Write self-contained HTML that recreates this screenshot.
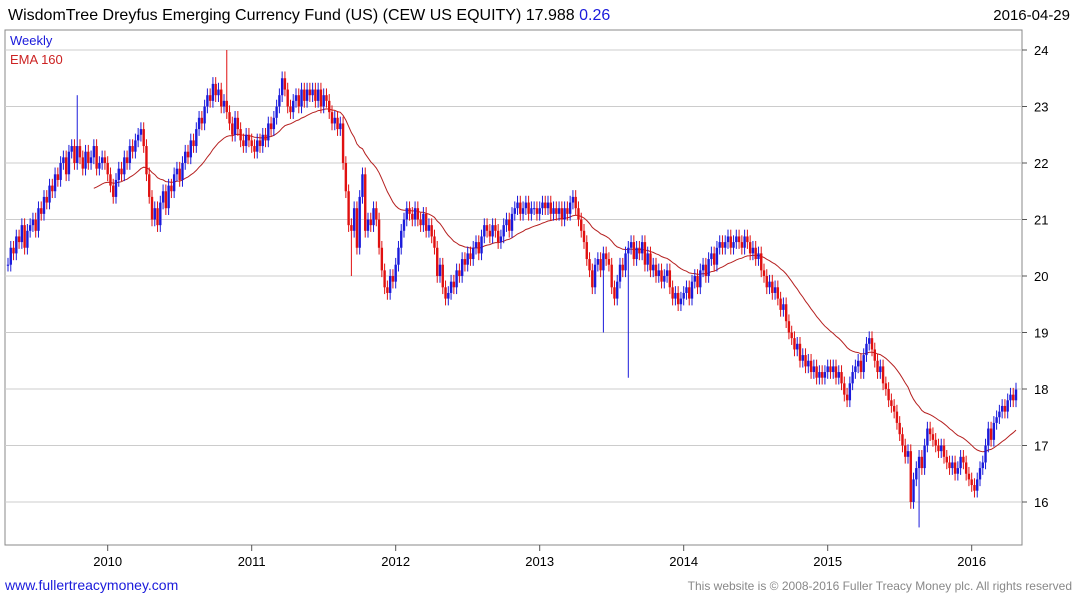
<!DOCTYPE html>
<html><head><meta charset="utf-8"><style>
body{margin:0;background:#fff;font-family:"Liberation Sans",sans-serif;}
#c{position:absolute;left:0;top:0;}
</style></head><body>
<svg id="c" width="1075" height="600" xmlns="http://www.w3.org/2000/svg">
<text x="8" y="20" font-size="16" fill="#000">WisdomTree Dreyfus Emerging Currency Fund (US) (CEW US EQUITY) 17.988 <tspan fill="#1a1adb">0.26</tspan></text>
<text x="1070" y="20" font-size="15" text-anchor="end" fill="#000">2016-04-29</text>
<rect x="5" y="30" width="1017" height="515" fill="none" stroke="#888"/>
<g id="grid"></g><g id="ema"></g><g id="bars"></g><g id="axes"></g>
<text x="10" y="45" font-size="13" fill="#1a1adb">Weekly</text>
<text x="10" y="64" font-size="13" fill="#c22">EMA 160</text>
<text x="5" y="590" font-size="14" fill="#1a1adb">www.fullertreacymoney.com</text>
<text x="1072" y="590" font-size="12" fill="#888" text-anchor="end">This website is © 2008-2016 Fuller Treacy Money plc. All rights reserved</text>
</svg>
<script>
const closes=[20.2,20.5,20.4,20.7,20.6,20.9,20.5,20.8,20.9,21.0,20.8,21.2,21.1,21.4,21.3,21.6,21.5,21.8,21.7,22.0,22.1,21.8,22.2,22.3,22.0,22.3,22.1,21.9,22.2,22.0,22.1,22.3,21.9,22.0,22.1,22.0,
21.8,21.6,21.4,21.7,21.9,21.8,22.1,22.0,22.3,22.2,22.4,22.5,22.6,22.3,21.8,21.4,21.0,21.2,20.9,21.3,21.5,21.2,21.6,21.5,21.8,21.9,21.7,22.0,22.2,22.1,22.4,22.3,22.6,22.8,22.7,23.0,23.2,23.1,23.4,23.2,23.3,23.0,23.1,22.9,22.7,22.5,22.8,22.6,22.4,22.3,22.5,22.4,
22.3,22.2,22.4,22.3,22.5,22.4,22.7,22.6,22.8,23.0,23.2,23.5,23.3,23.0,22.9,23.1,23.2,23.0,23.3,23.1,23.3,23.2,23.3,23.1,23.3,23.0,23.2,23.1,22.9,22.7,22.8,22.6,22.7,22.0,21.5,20.9,20.8,21.2,20.5,21.4,21.8,20.8,21.0,20.9,21.2,21.0,20.5,20.1,19.8,19.7,20.0,19.9,
20.2,20.5,20.8,21.0,21.2,21.1,21.0,21.2,21.0,20.9,21.1,20.8,20.9,20.7,20.5,20.0,20.2,19.8,19.6,19.7,19.9,19.8,20.1,20.0,20.3,20.2,20.4,20.3,20.5,20.6,20.4,20.7,20.9,20.8,20.7,20.9,20.8,20.6,20.7,20.9,21.0,20.8,21.1,21.2,21.3,21.1,21.2,21.3,21.1,21.2,21.2,21.1,
21.2,21.3,21.2,21.3,21.1,21.2,21.1,21.2,21.0,21.2,21.1,21.3,21.4,21.2,21.0,20.8,20.6,20.3,20.1,19.8,20.2,20.3,20.1,20.4,20.3,20.2,19.8,19.6,19.9,20.2,20.1,20.4,20.5,20.6,20.3,20.5,20.4,20.6,20.2,20.4,20.1,20.2,20.0,20.1,19.9,20.0,20.1,19.8,19.6,19.7,19.5,19.6,
19.7,19.8,19.6,19.9,20.0,19.8,20.1,20.2,20.0,20.3,20.4,20.2,20.5,20.6,20.5,20.6,20.7,20.5,20.6,20.7,20.6,20.5,20.7,20.6,20.4,20.5,20.3,20.4,20.1,20.0,19.8,19.9,19.7,19.8,19.6,19.4,19.5,19.2,19.0,18.9,18.7,18.8,18.5,18.6,18.4,18.5,18.3,18.4,18.2,18.3,18.2,18.3,
18.4,18.3,18.4,18.2,18.3,18.1,17.9,17.8,18.1,18.3,18.4,18.5,18.3,18.6,18.8,18.9,18.7,18.5,18.3,18.4,18.1,18.0,17.8,17.7,17.6,17.4,17.2,17.0,16.8,16.9,16.0,16.4,16.6,16.8,16.6,17.0,17.3,17.2,17.1,17.0,16.9,17.0,16.8,16.7,16.6,16.7,16.5,16.6,16.8,16.7,16.5,16.4,
16.3,16.2,16.4,16.6,16.7,17.0,17.3,17.1,17.4,17.5,17.6,17.7,17.6,17.8,17.9,17.8,17.99];
const spikeIdx=[25,79,215,224,329,124];
const spikeVal=[23.2,24.0,19.0,18.2,15.55,20.0];
const yTicks=[16,17,18,19,20,21,22,23,24];
const xYears=["2010","2011","2012","2013","2014","2015","2016"];
const xYearIdx=[36,88,140,192,244,296,348];

const NS="http://www.w3.org/2000/svg";
const n=closes.length;
const xS=i=>8+i*(1016-8)/(n-1);
const yS=v=>50+(24-v)*56.5;
function mk(t,a,p){const e=document.createElementNS(NS,t);for(const k in a)e.setAttribute(k,a[k]);p.appendChild(e);return e;}
const grid=document.getElementById('grid'),axes=document.getElementById('axes'),bars=document.getElementById('bars'),ema=document.getElementById('ema');
yTicks.forEach(v=>{
 const l=mk('line',{x1:5,x2:1022,y1:yS(v),y2:yS(v),stroke:'#ccc'},grid);
 
 
 mk('line',{x1:1022,x2:1027,y1:yS(v),y2:yS(v),stroke:'#555'},axes);
 const t=mk('text',{x:1034,y:yS(v)+5,'font-size':13,fill:'#000'},axes);t.textContent=v;
 
 
});
xYears.forEach((y,k)=>{
 const x=xS(xYearIdx[k]);
 mk('line',{x1:x,x2:x,y1:545,y2:551,stroke:'#555'},axes);
 const t=mk('text',{x:x,y:566,'font-size':13,'text-anchor':'middle',fill:'#000'},axes);t.textContent=y;
 
 
});
for(let i=0;i<n;i++){
 const c=closes[i],o=i?closes[i-1]:c;
 let hi=Math.max(o,c)+0.12,lo=Math.min(o,c)-0.12;
 const s=spikeIdx.indexOf(i);
 if(s>=0){if(spikeVal[s]>hi)hi=spikeVal[s];else lo=Math.min(lo,spikeVal[s]);}
 const col=c>=o?'#1a1adb':'#e01010';
 const x=xS(i);
 const g=mk('g',{},bars);
 
 
 mk('line',{x1:x,x2:x,y1:yS(hi),y2:yS(lo),stroke:col,'stroke-width':1},g);
 const t=yS(Math.max(o,c)),b=yS(Math.min(o,c));
 mk('rect',{x:x-1.2,y:t,width:2.4,height:Math.max(1,b-t),fill:col},g);
}
let e=closes[0],pts=[];const k=2/(32+1);
for(let i=0;i<n;i++){e=i?closes[i]*k+e*(1-k):e;if(i>=31)pts.push(xS(i).toFixed(1)+','+yS(e).toFixed(1));}
const pl=mk('polyline',{points:pts.join(' '),fill:'none',stroke:'#b52020','stroke-width':1},ema);


</script>
</body></html>
